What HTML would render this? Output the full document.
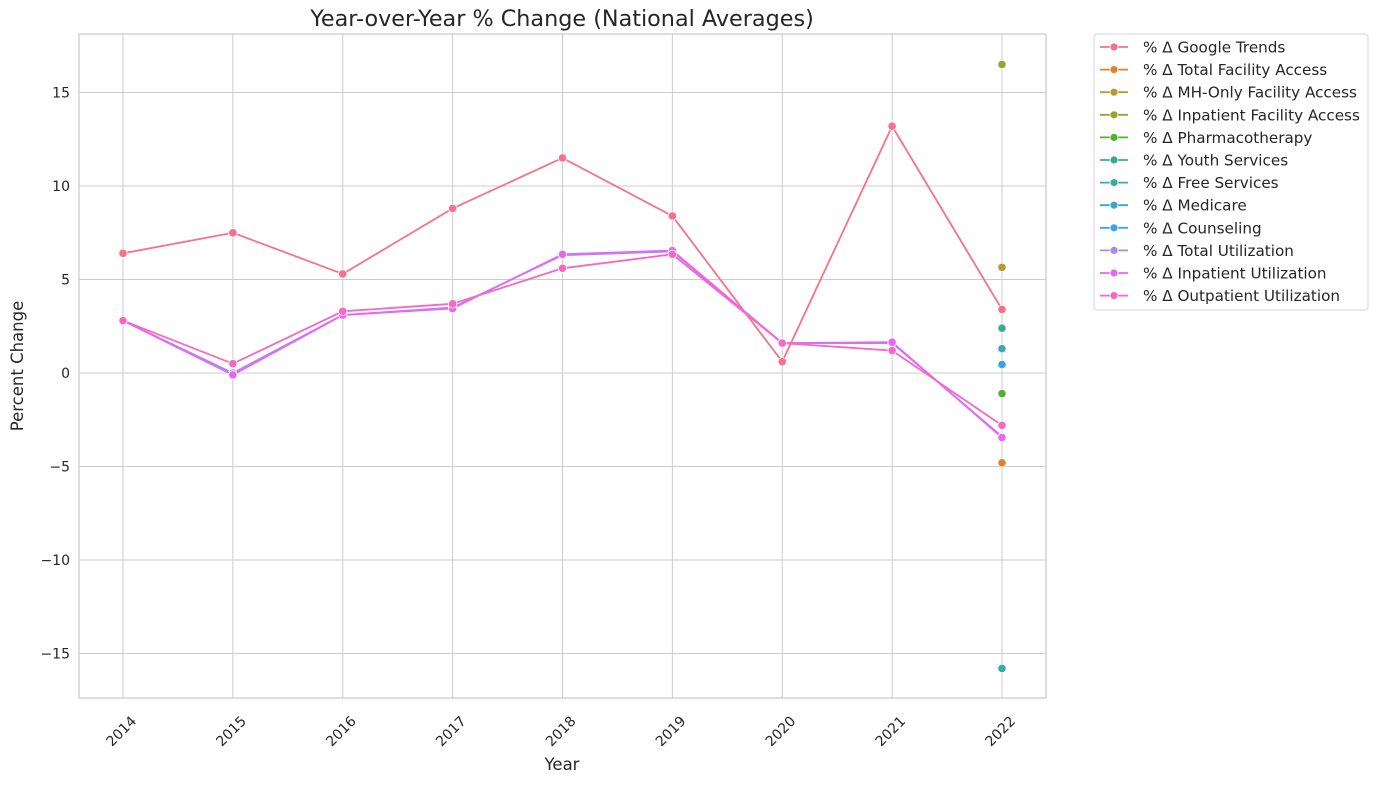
<!DOCTYPE html>
<html><head><meta charset="utf-8"><style>
body{margin:0;background:#fff;font-family:"DejaVu Sans","Liberation Sans",sans-serif}
svg text{font-family:"DejaVu Sans","Liberation Sans",sans-serif;fill:#262626}
</style></head><body>
<svg id="chart" width="1378" height="784"></svg>
<script>
const years=[2014,2015,2016,2017,2018,2019,2020,2021,2022];
const yTicks=[-15,-10,-5,0,5,10,15];
const seriesNames=["% Δ Google Trends","% Δ Total Facility Access","% Δ MH-Only Facility Access","% Δ Inpatient Facility Access","% Δ Pharmacotherapy","% Δ Youth Services","% Δ Free Services","% Δ Medicare","% Δ Counseling","% Δ Total Utilization","% Δ Inpatient Utilization","% Δ Outpatient Utilization"];
const seriesColors=["#f77189","#e1812c","#bb9832","#97a431","#50b131","#34ae91","#36ada4","#38a8c5","#3ba3ec","#a48cf4","#e866f4","#f668c2"];
const googleTrends=[6.4,7.5,5.3,8.8,11.5,8.4,0.6,13.2,3.4];
const totalFacility=[null,null,null,null,null,null,null,null,-4.8];
const mhFacility=[null,null,null,null,null,null,null,null,5.65];
const inpatientFacility=[null,null,null,null,null,null,null,null,16.5];
const pharmacotherapy=[null,null,null,null,null,null,null,null,-1.1];
const youthServices=[null,null,null,null,null,null,null,null,2.4];
const freeServices=[null,null,null,null,null,null,null,null,-15.8];
const medicare=[null,null,null,null,null,null,null,null,1.3];
const counseling=[null,null,null,null,null,null,null,null,0.45];
const totalUtil=[2.8,0.0,3.1,3.5,6.3,6.5,1.6,1.6,-3.4];
const inpatientUtil=[2.8,-0.1,3.1,3.45,6.35,6.55,1.6,1.65,-3.45];
const outpatientUtil=[2.8,0.5,3.3,3.7,5.6,6.35,1.6,1.2,-2.8];
const allSeries=[googleTrends,totalFacility,mhFacility,inpatientFacility,pharmacotherapy,youthServices,freeServices,medicare,counseling,totalUtil,inpatientUtil,outpatientUtil];

const NS="http://www.w3.org/2000/svg";
const svg=document.getElementById('chart');
const L=79,R=1046,T=34,B=698;
const yMin=-17.38,yMax=18.13;
const xs=i=>123+i*(1002-123)/(years.length-1);
const ys=v=>B-(v-yMin)/(yMax-yMin)*(B-T);
function mk(tag,attrs,parent){const e=document.createElementNS(NS,tag);for(const k in attrs)e.setAttribute(k,attrs[k]);(parent||svg).appendChild(e);return e;}

years.forEach((y,i)=>{
 const g=mk('line',{x1:xs(i),x2:xs(i),y1:T,y2:B,stroke:'#cccccc','stroke-width':1});
 
 
 const t=mk('text',{x:0,y:5,'font-size':14,'text-anchor':'middle',transform:`translate(${xs(i)-2},${B+33}) rotate(-45)`});
 t.textContent=y;
 
 
});
yTicks.forEach(v=>{
 const g=mk('line',{x1:L,x2:R,y1:ys(v),y2:ys(v),stroke:'#cccccc','stroke-width':1});
 
 
 const t=mk('text',{x:L-9,y:ys(v)+5,'font-size':14,'text-anchor':'end'});
 t.textContent=v<0?'\u2212'+Math.abs(v):v;
 
 
});
const frame=mk('rect',{x:L,y:T,width:R-L,height:B-T,fill:'none',stroke:'#cccccc','stroke-width':1.3});



allSeries.forEach((s,si)=>{
 const c=seriesColors[si];
 const g=mk('g',{});
 
 
 let d='';
 s.forEach((v,i)=>{if(v!==null)d+=(d?'L':'M')+xs(i)+','+ys(v);});
 if(d.includes('L')){const p=mk('path',{d,fill:'none',stroke:c,'stroke-width':1.8},g);
  
  }
 s.forEach((v,i)=>{if(v===null)return;
  const m=mk('circle',{cx:xs(i),cy:ys(v),r:4.2,fill:c,stroke:'#fff','stroke-width':0.8},g);
  
  });
});

const title=mk('text',{x:562,y:26,'font-size':22.3,'text-anchor':'middle'});title.textContent='Year-over-Year % Change (National Averages)';

const xt=mk('text',{x:562,y:770,'font-size':16.5,'text-anchor':'middle'});xt.textContent='Year';

const yt=mk('text',{x:0,y:0,'font-size':16.5,'text-anchor':'middle',transform:'translate(23,366) rotate(-90)'});yt.textContent='Percent Change';


const lg=mk('g',{});


const lb=mk('rect',{x:1094,y:34,width:274,height:276,rx:3,fill:'#fff',stroke:'#d6d6d6'},lg);

seriesNames.forEach((n,i)=>{
 const y=47+i*22.6;
 const e=mk('g',{},lg);
 
 
 mk('line',{x1:1100,x2:1128,y1:y,y2:y,stroke:seriesColors[i],'stroke-width':1.8},e);
 mk('circle',{cx:1114,cy:y,r:4,fill:seriesColors[i],stroke:'#fff','stroke-width':0.8},e);
 const t=mk('text',{x:1143,y:y+5.5,'font-size':15.2},e);t.textContent=n;
});
</script>
</body></html>
